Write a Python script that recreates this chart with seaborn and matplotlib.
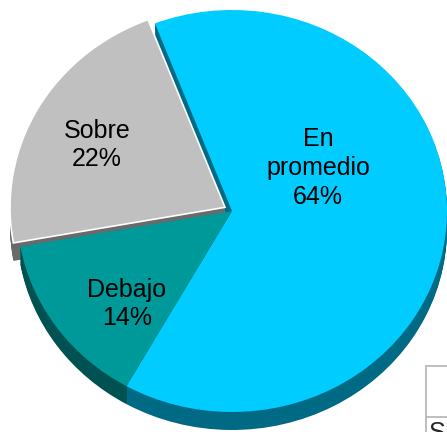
import numpy as np
import seaborn as sns
import matplotlib.pyplot as plt
from matplotlib.lines import Line2D

# data
categories = ["En\npromedio", "Debajo", "Sobre"]
shares = [64, 14, 22]
top_colors = ["#00CCFF", "#009999", "#C0C0C0"]
side_colors = ["#006A85", "#005252", "#6A6A6A"]

sns.set_theme(style="white")
plt.rcParams["font.family"] = ["Liberation Sans", "DejaVu Sans"]

W, H = 447, 432
fig = plt.figure(figsize=(W / 100, H / 100), dpi=100)
ax = fig.add_axes([0, 0, 1, 1])

# pie is an ellipse: stretch x so that a circle of radius ry fills rx pixels
rx, ry = 215.0, 201.0
s = ry / rx
cx, cy = 232.0 * s, H - 211.0
depth = 18
# explode is in data units (pixels here), not a fraction of the radius
explode = [0.0, 0.0, 7.5]

# side walls: same pie stacked downwards in darker colours
for d in range(depth, 0, -1):
    ax.pie(shares, colors=side_colors, explode=explode, startangle=111,
           counterclock=False, radius=ry, center=(cx, cy - d),
           wedgeprops=dict(linewidth=0), frame=True)

# top surface
wedges, texts = ax.pie(shares, colors=top_colors, explode=explode, startangle=111,
                       counterclock=False, radius=ry, center=(cx, cy),
                       labels=[f"{c}\n{v}%" for c, v in zip(categories, shares)],
                       labeldistance=0.5,
                       wedgeprops=dict(linewidth=0),
                       textprops=dict(fontsize=18, color="black", ha="center",
                                      va="center", linespacing=1.25),
                       frame=True)
# only the lifted slice gets the thin white rim
wedges[2].set_edgecolor("white")
wedges[2].set_linewidth(1.2)

label_pos = [(318, 168), (127, 304), (97, 145)]
for t, (px, py) in zip(texts, label_pos):
    t.set_position((px * s, H - py))
    t.set_ha("center")
    t.set_va("center")

ax.set_aspect("auto")
ax.set_xlim(0, W * s)
ax.set_ylim(0, H)
ax.axis("off")

# fragment of the data table in the lower right corner
tc = "#B4B4B4"
fig.add_artist(Line2D([426 / W, 426 / W], [0, 1 - 366 / H], color=tc, lw=1.2))
fig.add_artist(Line2D([426 / W, 1], [1 - 366 / H, 1 - 366 / H], color=tc, lw=1.2))
fig.add_artist(Line2D([426 / W, 1], [1 - 417 / H, 1 - 417 / H], color=tc, lw=1.2))
fig.text(429 / W, 1 - 421 / H, "S", fontsize=18, va="top", ha="left")

fig.savefig("out.png", dpi=100, facecolor="white")
